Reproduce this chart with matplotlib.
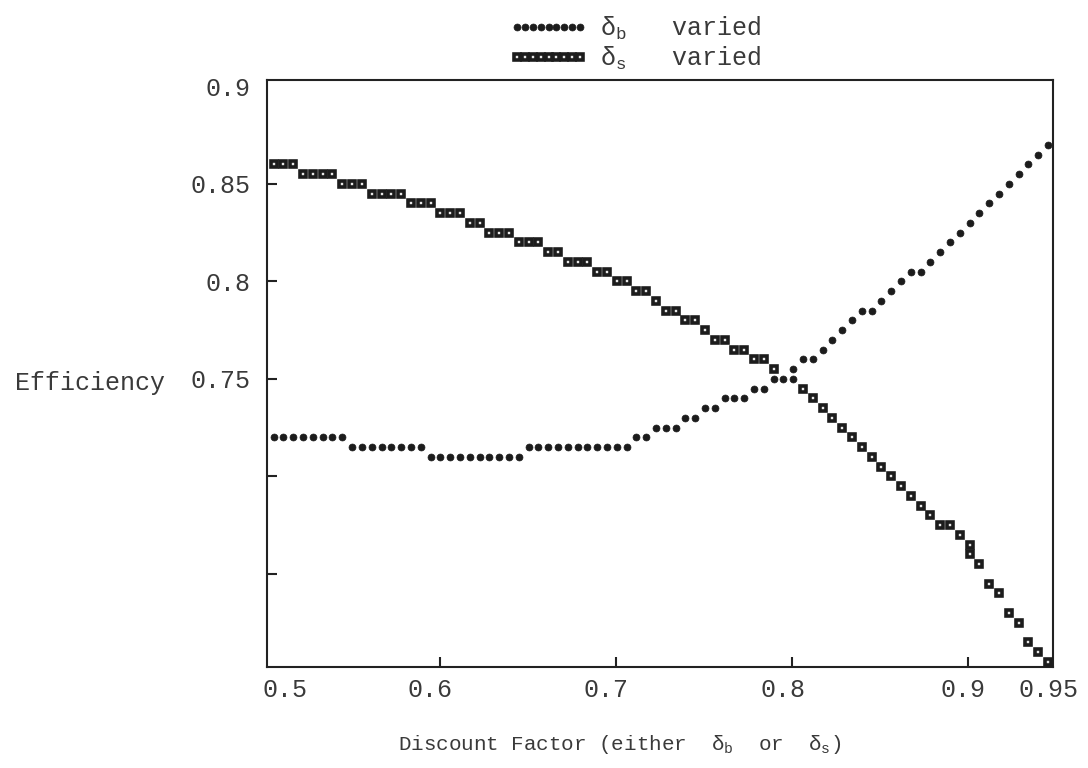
import numpy as np
import matplotlib
matplotlib.use('Agg')
import matplotlib.pyplot as plt
from matplotlib.lines import Line2D

plt.rcParams['font.family'] = ['Liberation Mono', 'DejaVu Sans Mono']
plt.rcParams['mathtext.fontset'] = 'custom'
plt.rcParams['mathtext.rm'] = 'Liberation Mono'
plt.rcParams['mathtext.it'] = 'Liberation Mono'
plt.rcParams['text.color'] = '#3a3a3a'
plt.rcParams['axes.labelcolor'] = '#3a3a3a'

# discount factor at each printer column (80 columns from 0.5 to 0.95)
discount = np.linspace(0.5055, 0.9455, 80)

# efficiency when the buyer's discount factor is varied
eff_b_varied = [
    0.72, 0.72, 0.72, 0.72, 0.72, 0.72, 0.72, 0.72,
    0.715, 0.715, 0.715, 0.715, 0.715, 0.715, 0.715, 0.715,
    0.71, 0.71, 0.71, 0.71, 0.71, 0.71, 0.71, 0.71, 0.71, 0.71,
    0.715, 0.715, 0.715, 0.715, 0.715, 0.715, 0.715, 0.715, 0.715, 0.715, 0.715,
    0.72, 0.72, 0.725, 0.725, 0.725, 0.73, 0.73, 0.735, 0.735,
    0.74, 0.74, 0.74, 0.745, 0.745, 0.75, 0.75, 0.75,
    0.76, 0.76, 0.765, 0.77, 0.775, 0.78, 0.785, 0.785, 0.79, 0.795,
    0.80, 0.805, 0.805, 0.81, 0.815, 0.82, 0.825, 0.83, 0.835, 0.84,
    0.845, 0.85, 0.855, 0.86, 0.865, 0.87,
]

# efficiency when the seller's discount factor is varied
# (columns 52-53 are overprinted by the other series)
eff_s_varied = [
    0.86, 0.86, 0.86, 0.855, 0.855, 0.855, 0.855, 0.85, 0.85, 0.85,
    0.845, 0.845, 0.845, 0.845, 0.84, 0.84, 0.84, 0.835, 0.835, 0.835,
    0.83, 0.83, 0.825, 0.825, 0.825, 0.82, 0.82, 0.82, 0.815, 0.815,
    0.81, 0.81, 0.81, 0.805, 0.805, 0.80, 0.80, 0.795, 0.795, 0.79,
    0.785, 0.785, 0.78, 0.78, 0.775, 0.77, 0.77, 0.765, 0.765, 0.76,
    0.76, 0.755, np.nan, np.nan, 0.745, 0.74, 0.735, 0.73, 0.725, 0.72,
    0.715, 0.71, 0.705, 0.70, 0.695, 0.69, 0.685, 0.68, 0.675, 0.675,
    0.67, 0.665, 0.655, 0.645, 0.64, 0.63, 0.625, 0.615, 0.61, 0.605,
]

# second marks printed in the same column
extra_b_col = [53]
extra_b_val = [0.755]
extra_s_col = [71]
extra_s_val = [0.66]

ink = '#1c1c1c'
sq_style = dict(ls='none', marker='s', ms=4.6, mfc='#e8e8e8', mec=ink, mew=2.6)
dot_style = dict(ls='none', marker='o', ms=5.0, mfc=ink, mec=ink, mew=0.5)

fig = plt.figure(figsize=(10.88, 7.68), dpi=100)
ax = fig.add_axes([0.2454, 0.1315, 0.7224, 0.7643])

ax.plot(discount, eff_s_varied, zorder=3, **sq_style)
ax.plot(discount[extra_s_col], extra_s_val, zorder=3, **sq_style)
ax.plot(discount, eff_b_varied, zorder=4, **dot_style)
ax.plot(discount[extra_b_col], extra_b_val, zorder=4, **dot_style)

ax.set_xlim(0.5017, 0.9483)
ax.set_ylim(0.6023, 0.9033)

for s in ax.spines.values():
    s.set_linewidth(1.5)
    s.set_color('#222222')

ax.set_xticks([0.6, 0.7, 0.8, 0.9])
ax.set_xticklabels([])
ax.set_yticks([0.65, 0.70, 0.75, 0.80, 0.85, 0.90])
ax.set_yticklabels(['', '', '0.75', '0.8', '0.85', '0.9'])
ax.yaxis.get_major_ticks()[-1].tick1line.set_visible(False)
ax.tick_params(direction='in', length=7, width=1.5, color='#222222')
ax.tick_params(axis='y', pad=12, labelsize=18, labelcolor='#3a3a3a')

# x tick labels sit a little left of their ticks
tick_label_x = [0.512, 0.5943, 0.6943, 0.7949, 0.8972, 0.946]
tick_label_txt = ['0.5', '0.6', '0.7', '0.8', '0.9', '0.95']
for xv, txt in zip(tick_label_x, tick_label_txt):
    ax.text(xv, -0.04, txt, transform=ax.get_xaxis_transform(),
            ha='center', va='center', fontsize=18)

ax.set_xlabel(r'Discount Factor (either  $\delta_b$  or  $\delta_s$)', fontsize=15)
ax.xaxis.set_label_coords(0.449, -0.112)
ax.set_ylabel('Efficiency', rotation=0, ha='right', va='center', fontsize=18)
ax.yaxis.set_label_coords(-0.13, 0.484)

handles = [Line2D([], [], **dot_style), Line2D([], [], **sq_style)]
fig.legend(handles, [r'$\delta_b$   varied', r'$\delta_s$   varied'],
           loc='upper left', bbox_to_anchor=(0.448, 1.01), frameon=False,
           numpoints=9, handlelength=3.1, handletextpad=0.5,
           labelspacing=0.1, fontsize=18)

fig.savefig('out.png', dpi=100)
